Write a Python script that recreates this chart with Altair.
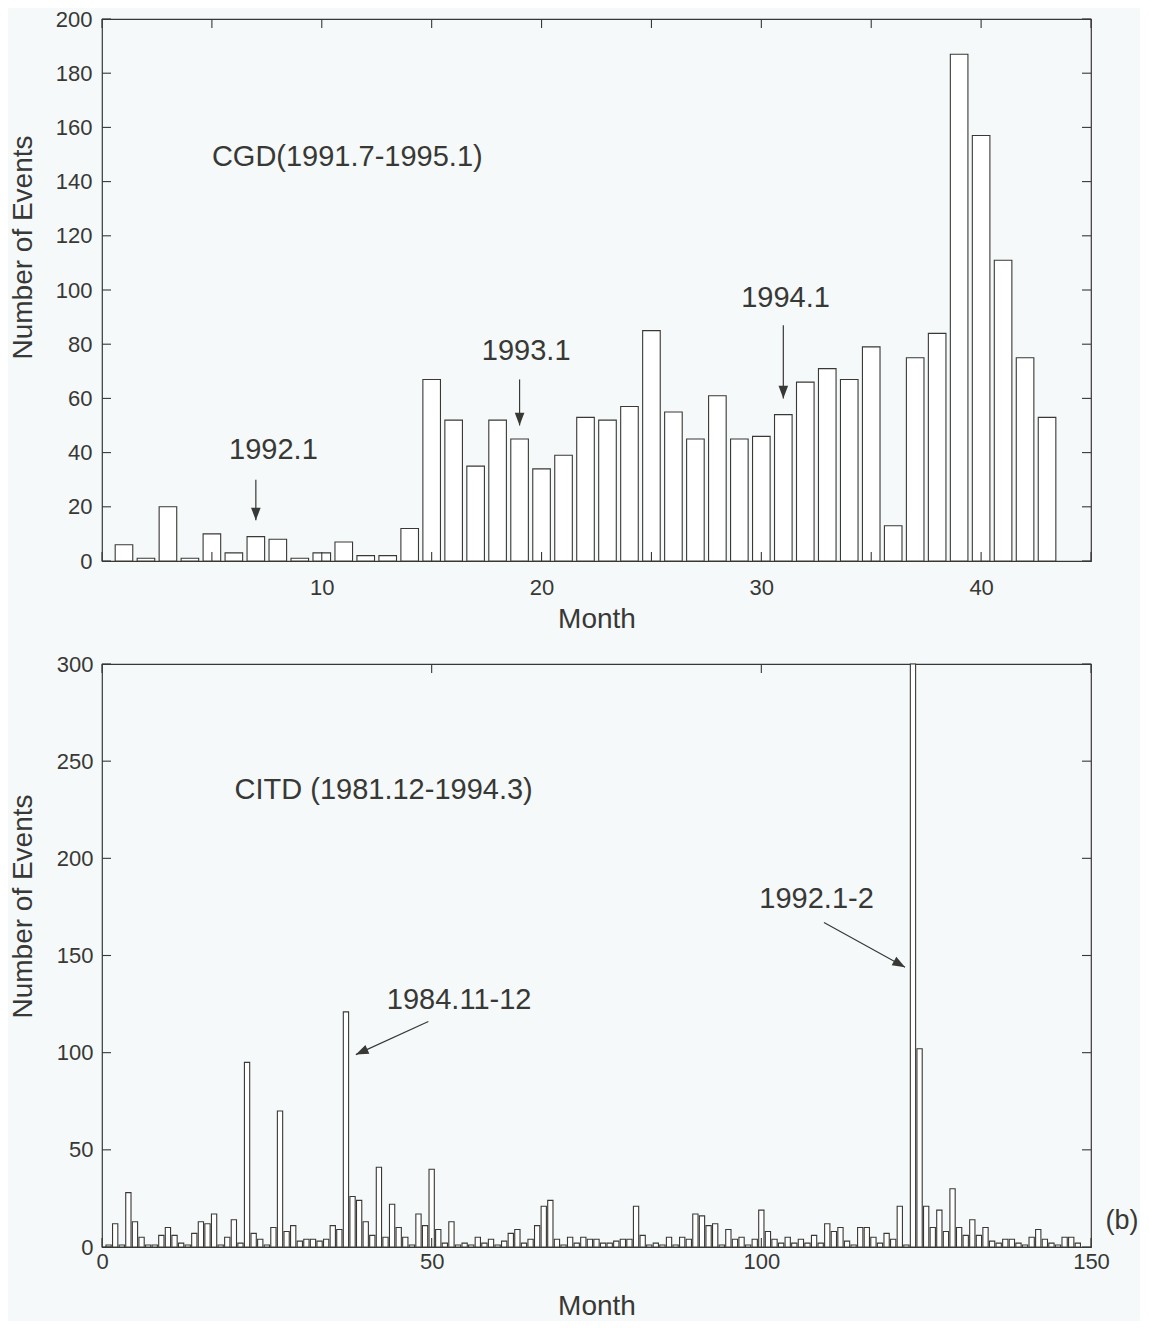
import altair as alt
import pandas as pd

# ---------------- data ----------------
cgd_counts = [6, 1, 20, 1, 10, 3, 9, 8, 1, 3,
              7, 2, 2, 12, 67, 52, 35, 52, 45, 34,
              39, 53, 52, 57, 85, 55, 45, 61, 45, 46,
              54, 66, 71, 67, 79, 13, 75, 84, 187, 157,
              111, 75, 53]

citd_counts = [1, 12, 1, 28, 13, 5, 1, 1, 6, 10,
               6, 2, 1, 7, 13, 12, 17, 1, 5, 14,
               2, 95, 7, 4, 1, 10, 70, 8, 11, 3,
               4, 4, 3, 4, 11, 9, 121, 26, 24, 13,
               6, 41, 5, 22, 10, 5, 1, 17, 11, 40,
               9, 2, 13, 1, 2, 1, 5, 2, 4, 1,
               3, 7, 9, 2, 4, 11, 21, 24, 4, 1,
               5, 2, 5, 4, 4, 2, 2, 3, 4, 4,
               21, 6, 1, 2, 1, 5, 1, 5, 4, 17,
               16, 11, 12, 1, 9, 4, 5, 1, 4, 19,
               8, 4, 2, 5, 2, 4, 2, 6, 2, 12,
               8, 10, 3, 1, 10, 10, 5, 2, 7, 4,
               21, 1, 300, 102, 21, 10, 19, 8, 30, 10,
               6, 14, 6, 10, 3, 2, 4, 4, 2, 1,
               5, 9, 4, 2, 1, 5, 5, 2]

cgd_x_ticks = [0, 5, 10, 15, 20, 25, 30, 35, 40, 45]
cgd_y_ticks = [0, 20, 40, 60, 80, 100, 120, 140, 160, 180, 200]
citd_x_ticks = [0, 50, 100, 150]
citd_y_ticks = [0, 50, 100, 150, 200, 250, 300]

# annotations (data coordinates)
cgd_texts = ["CGD(1991.7-1995.1)", "1992.1", "1993.1", "1994.1"]
cgd_text_x = [5.0, 7.8, 19.3, 31.1]
cgd_text_y = [149, 41, 77.5, 97]
cgd_text_align = ["left", "center", "center", "center"]
cgd_arrow_x = [7, 19, 31]
cgd_arrow_y_from = [30, 67, 87]
cgd_arrow_y_tip = [15, 50, 60]

citd_texts = ["CITD (1981.12-1994.3)", "1984.11-12", "1992.1-2", "(b)"]
citd_text_x = [20.1, 43.2, 99.7, 152.2]
citd_text_y = [235, 127, 179, 13.5]
citd_text_size = [29, 29, 29, 27]
citd_arrow_x_from = [49.5, 109.5]
citd_arrow_y_from = [116, 167]
citd_arrow_x_tip = [38.5, 121.8]
citd_arrow_y_tip = [99, 144]
citd_arrow_angle = [246, 119]

FONT = "Liberation Sans"
INK = "#383835"
BG = "#f5f9fa"
HEAD = "M0,0L0.38,1L-0.38,1Z"   # arrow head, tip at origin, pointing up


def panel(counts, xdom, ydom, xticks, yticks, label_expr, W, H,
          tick_len, label_size, xlab_pad, xtitle_pad, ylab_pad, ytitle_pad, ytitle_y):
    df = pd.DataFrame({"month": list(range(1, len(counts) + 1)), "count": counts})
    xs = alt.Scale(domain=xdom, nice=False, zero=False)
    ys = alt.Scale(domain=ydom, nice=False)
    bars = alt.Chart(df).transform_calculate(
        x0="datum.month - 0.4", x1="datum.month + 0.4"
    ).mark_bar(fill="white", stroke=INK, strokeWidth=1.1).encode(
        x=alt.X("x0:Q", scale=xs,
                axis=alt.Axis(values=xticks, labelExpr=label_expr, title="Month",
                              ticks=False, tickSize=0, domain=False, grid=False,
                              labelFlush=False, labelPadding=xlab_pad,
                              titlePadding=xtitle_pad, labelFontSize=label_size)),
        x2="x1:Q",
        y=alt.Y("count:Q", scale=ys,
                axis=alt.Axis(values=yticks, title="Number of Events",
                              ticks=False, tickSize=0, domain=False, grid=False,
                              labelPadding=ylab_pad, titlePadding=ytitle_pad,
                              titleY=ytitle_y, labelFontSize=label_size)),
        y2=alt.datum(0),
    )
    ydf = pd.DataFrame({"v": yticks})
    xdf = pd.DataFrame({"v": xticks})
    left = alt.Chart(ydf).mark_rule(color=INK, strokeWidth=1.1).encode(
        y=alt.Y("v:Q", scale=ys), x=alt.value(0), x2=alt.value(tick_len))
    right = alt.Chart(ydf).mark_rule(color=INK, strokeWidth=1.1).encode(
        y=alt.Y("v:Q", scale=ys), x=alt.value(W), x2=alt.value(W - tick_len))
    bottom = alt.Chart(xdf).mark_rule(color=INK, strokeWidth=1.1).encode(
        x=alt.X("v:Q", scale=xs), y=alt.value(H), y2=alt.value(H - tick_len))
    top = alt.Chart(xdf).mark_rule(color=INK, strokeWidth=1.1).encode(
        x=alt.X("v:Q", scale=xs), y=alt.value(0), y2=alt.value(tick_len))
    return [bars, left, right, bottom, top], xs, ys


# ---------------- top panel ----------------
W1, H1 = 989, 542
layers1, xs1, ys1 = panel(cgd_counts, [0, 45], [0, 200], cgd_x_ticks, cgd_y_ticks,
                          "datum.value % 10 == 0 && datum.value > 0 ? datum.label : ''",
                          W1, H1, 9, 22, 16, 7, 10, 18, 228)

t1 = pd.DataFrame({"x": cgd_text_x, "y": cgd_text_y, "t": cgd_texts, "a": cgd_text_align})
txt1_left = alt.Chart(t1[t1.a == "left"]).mark_text(
    align="left", baseline="middle", font=FONT, fontSize=29, color=INK).encode(
    x=alt.X("x:Q", scale=xs1), y=alt.Y("y:Q", scale=ys1), text="t:N")
txt1_center = alt.Chart(t1[t1.a == "center"]).mark_text(
    align="center", baseline="middle", font=FONT, fontSize=29, color=INK).encode(
    x=alt.X("x:Q", scale=xs1), y=alt.Y("y:Q", scale=ys1), text="t:N")

a1 = pd.DataFrame({"x": cgd_arrow_x, "y0": cgd_arrow_y_from, "y1": cgd_arrow_y_tip,
                   "ang": [180] * len(cgd_arrow_x)})
shaft1 = alt.Chart(a1).mark_rule(color=INK, strokeWidth=1.2).encode(
    x=alt.X("x:Q", scale=xs1),
    y=alt.Y("y0:Q", scale=ys1), y2="y1:Q")
head1 = alt.Chart(a1).mark_point(shape=HEAD, filled=True, size=640, color=INK, opacity=1).encode(
    x=alt.X("x:Q", scale=xs1),
    y=alt.Y("y1:Q", scale=ys1),
    angle=alt.Angle("ang:Q", scale=None))

top_chart = alt.layer(*layers1, txt1_left, txt1_center, shaft1, head1).properties(
    width=W1, height=H1)

# ---------------- bottom panel ----------------
W2, H2 = 989, 583
layers2, xs2, ys2 = panel(citd_counts, [0, 150], [0, 300], citd_x_ticks, citd_y_ticks,
                          "datum.label", W2, H2, 9, 22, 4, 20, 9, 19, 242)

t2 = pd.DataFrame({"x": citd_text_x, "y": citd_text_y, "t": citd_texts, "s": citd_text_size})
txt2 = alt.Chart(t2).mark_text(
    align="left", baseline="middle", font=FONT, color=INK).encode(
    x=alt.X("x:Q", scale=xs2), y=alt.Y("y:Q", scale=ys2), text="t:N",
    size=alt.Size("s:Q", scale=None))

a2 = pd.DataFrame({"x0": citd_arrow_x_from, "y0": citd_arrow_y_from,
                   "x1": citd_arrow_x_tip, "y1": citd_arrow_y_tip, "ang": citd_arrow_angle})
shaft2 = alt.Chart(a2).mark_rule(color=INK, strokeWidth=1.2).encode(
    x=alt.X("x0:Q", scale=xs2), x2="x1:Q",
    y=alt.Y("y0:Q", scale=ys2), y2="y1:Q")
head2 = alt.Chart(a2).mark_point(shape=HEAD, filled=True, size=640, color=INK, opacity=1).encode(
    x=alt.X("x1:Q", scale=xs2),
    y=alt.Y("y1:Q", scale=ys2),
    angle=alt.Angle("ang:Q", scale=None))

bottom_chart = alt.layer(*layers2, txt2, shaft2, head2).properties(width=W2, height=H2)

chart = alt.ConcatChart(
    concat=[top_chart, bottom_chart], columns=1, spacing=18
).properties(
    padding={"left": 0, "top": -1, "right": 0, "bottom": 0},
    background=BG,
).configure_view(
    stroke=INK, strokeWidth=1.2
).configure_axis(
    labelFont=FONT, titleFont=FONT, labelColor=INK, titleColor=INK,
    titleFontSize=28, titleFontWeight="normal",
)

chart.save("out.html", embed_options={"renderer": "svg", "actions": False})
